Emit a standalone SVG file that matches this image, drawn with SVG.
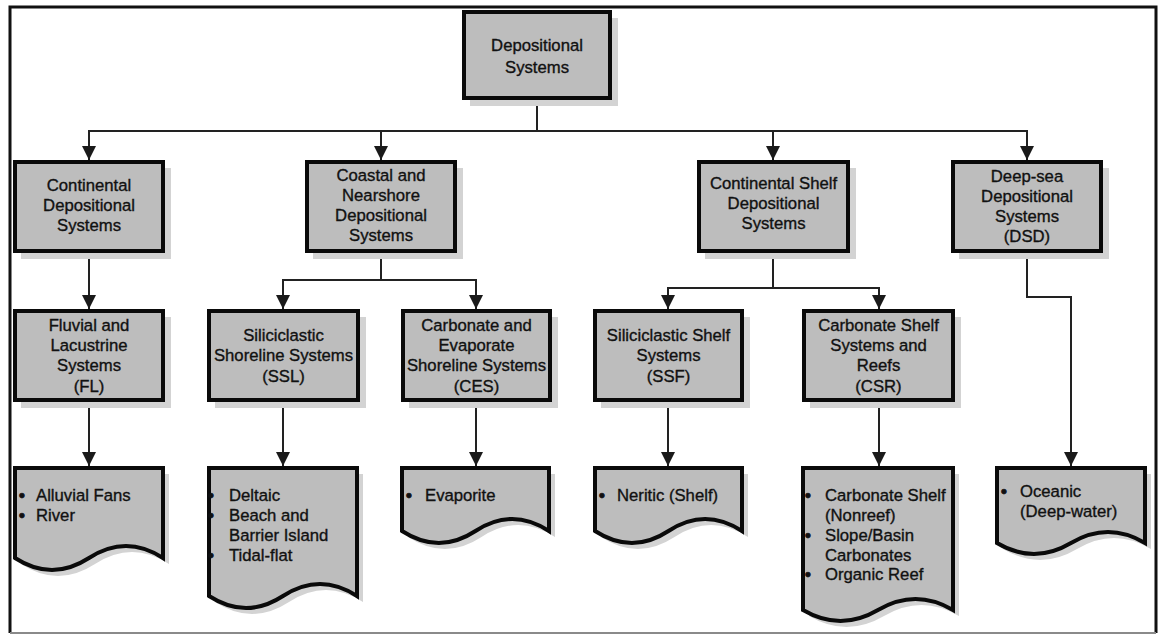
<svg xmlns="http://www.w3.org/2000/svg" width="1158" height="635" viewBox="0 0 1158 635">
<style>
  .box { fill: #bdbdbd; stroke: #0a0a0a; stroke-width: 4; }
  .shadow { fill: #d3d3d3; stroke: none; }
  .lbl { font-family: "Liberation Sans", Arial, sans-serif; font-size: 16.7px; fill: #111; stroke: #111; stroke-width: 0.35; text-anchor: middle; }
  .itm { font-family: "Liberation Sans", Arial, sans-serif; font-size: 16.7px; fill: #111; stroke: #111; stroke-width: 0.35; }
  .b { font-weight: bold; stroke-width: 0.8; }
  .con { fill: none; stroke: #222; stroke-width: 2; }
  .arr { fill: none; stroke: #222; stroke-width: 2; marker-end: url(#ah); }
</style>
<defs>
  <marker id="ah" markerUnits="userSpaceOnUse" markerWidth="14" markerHeight="16" refX="14" refY="7" orient="auto" viewBox="0 0 14 14">
    <path d="M0,0 L14,7 L0,14 Z" fill="#1a1a1a"/>
  </marker>
</defs>
<rect x="0" y="0" width="1158" height="635" fill="#ffffff"/>
<g id="frame">
  <path d="M10,633 V7 H1156 V633" fill="none" stroke="#111" stroke-width="3"/>
  <path d="M10,633 H1156" fill="none" stroke="#8a8a8a" stroke-width="2"/>
</g>
<g id="connectors">
  <path class="con" d="M537,100 V131"/>
  <path class="arr" d="M537,131 H89 V160"/>
  <path class="arr" d="M537,131 H381 V160"/>
  <path class="arr" d="M537,131 H773 V160"/>
  <path class="arr" d="M537,131 H1027 V160"/>
  <path class="arr" d="M89,253 V309"/>
  <path class="arr" d="M381,253 V280 H283 V309"/>
  <path class="arr" d="M381,280 H476 V309"/>
  <path class="arr" d="M773,253 V288 H668 V309"/>
  <path class="arr" d="M773,288 H879 V309"/>
  <path class="arr" d="M1027,253 V297 H1071 V466"/>
  <path class="arr" d="M89,402 V466"/>
  <path class="arr" d="M283,402 V466"/>
  <path class="arr" d="M476,402 V466"/>
  <path class="arr" d="M668,402 V466"/>
  <path class="arr" d="M879,402 V466"/>
</g>
<g id="depositional-systems">
  <rect class="shadow" x="470" y="18" width="148" height="88"/>
  <rect class="box" x="464" y="12" width="146" height="86"/>
  <text class="lbl" x="537" y="51">Depositional</text>
  <text class="lbl" x="537" y="73">Systems</text>
</g>
<g id="continental">
  <rect class="shadow" x="21" y="168" width="150" height="91"/>
  <rect class="box" x="15" y="162" width="148" height="89"/>
  <text class="lbl" x="89" y="191">Continental</text>
  <text class="lbl" x="89" y="211">Depositional</text>
  <text class="lbl" x="89" y="231">Systems</text>
</g>
<g id="coastal">
  <rect class="shadow" x="313" y="168" width="150" height="91"/>
  <rect class="box" x="307" y="162" width="148" height="89"/>
  <text class="lbl" x="381" y="181">Coastal and</text>
  <text class="lbl" x="381" y="201">Nearshore</text>
  <text class="lbl" x="381" y="221">Depositional</text>
  <text class="lbl" x="381" y="241">Systems</text>
</g>
<g id="continental-shelf">
  <rect class="shadow" x="705" y="168" width="151" height="91"/>
  <rect class="box" x="699" y="162" width="149" height="89"/>
  <text class="lbl" x="773.5" y="189">Continental Shelf</text>
  <text class="lbl" x="773.5" y="209">Depositional</text>
  <text class="lbl" x="773.5" y="229">Systems</text>
</g>
<g id="deep-sea">
  <rect class="shadow" x="959" y="168" width="150" height="91"/>
  <rect class="box" x="953" y="162" width="148" height="89"/>
  <text class="lbl" x="1027" y="182">Deep-sea</text>
  <text class="lbl" x="1027" y="202">Depositional</text>
  <text class="lbl" x="1027" y="222">Systems</text>
  <text class="lbl" x="1027" y="242">(DSD)</text>
</g>
<g id="fl">
  <rect class="shadow" x="21" y="317" width="150" height="91"/>
  <rect class="box" x="15" y="311" width="148" height="89"/>
  <text class="lbl" x="89" y="331">Fluvial and</text>
  <text class="lbl" x="89" y="351">Lacustrine</text>
  <text class="lbl" x="89" y="371">Systems</text>
  <text class="lbl" x="89" y="392">(FL)</text>
</g>
<g id="ssl">
  <rect class="shadow" x="215" y="317" width="151" height="91"/>
  <rect class="box" x="209" y="311" width="149" height="89"/>
  <text class="lbl" x="283.5" y="341">Siliciclastic</text>
  <text class="lbl" x="283.5" y="361">Shoreline Systems</text>
  <text class="lbl" x="283.5" y="382">(SSL)</text>
</g>
<g id="ces">
  <rect class="shadow" x="409" y="317" width="149" height="91"/>
  <rect class="box" x="403" y="311" width="147" height="89"/>
  <text class="lbl" x="476.5" y="331">Carbonate and</text>
  <text class="lbl" x="476.5" y="351">Evaporate</text>
  <text class="lbl" x="476.5" y="371">Shoreline Systems</text>
  <text class="lbl" x="476.5" y="392">(CES)</text>
</g>
<g id="ssf">
  <rect class="shadow" x="601" y="317" width="149" height="91"/>
  <rect class="box" x="595" y="311" width="147" height="89"/>
  <text class="lbl" x="668.5" y="341">Siliciclastic Shelf</text>
  <text class="lbl" x="668.5" y="361">Systems</text>
  <text class="lbl" x="668.5" y="382">(SSF)</text>
</g>
<g id="csr">
  <rect class="shadow" x="810" y="317" width="151" height="91"/>
  <rect class="box" x="804" y="311" width="149" height="89"/>
  <text class="lbl" x="878.5" y="331">Carbonate Shelf</text>
  <text class="lbl" x="878.5" y="351">Systems and</text>
  <text class="lbl" x="878.5" y="371">Reefs</text>
  <text class="lbl" x="878.5" y="392">(CSR)</text>
</g>
<g id="doc-fl">
  <path class="shadow" d="M21,474 H169 V564 Q132,540 95,564 T21,564 Z"/>
  <path class="box" d="M15,468 H163 V558 Q126,534 89,558 T15,558 Z"/>
  <text class="itm" y="501"><tspan class="b" x="19">•</tspan><tspan x="36">Alluvial Fans</tspan></text>
  <text class="itm" y="521"><tspan class="b" x="19">•</tspan><tspan x="36">River</tspan></text>
</g>
<g id="doc-ssl">
  <path class="shadow" d="M215,474 H363 V602 Q326,578 289,602 T215,602 Z"/>
  <path class="box" d="M209,468 H357 V596 Q320,572 283,596 T209,596 Z"/>
  <text class="itm" y="501"><tspan class="b" x="208">•</tspan><tspan x="229">Deltaic</tspan></text>
  <text class="itm" y="521"><tspan class="b" x="208">•</tspan><tspan x="229">Beach and</tspan></text>
  <text class="itm" x="229" y="541">Barrier Island</text>
  <text class="itm" y="561"><tspan class="b" x="208">•</tspan><tspan x="229">Tidal-flat</tspan></text>
</g>
<g id="doc-ces">
  <path class="shadow" d="M408,474 H555 V537 Q518,513 481.5,537 T408,537 Z"/>
  <path class="box" d="M402,468 H549 V531 Q512,507 475.5,531 T402,531 Z"/>
  <text class="itm" y="501"><tspan class="b" x="406">•</tspan><tspan x="425">Evaporite</tspan></text>
</g>
<g id="doc-ssf">
  <path class="shadow" d="M601,474 H748 V537 Q711,513 674.5,537 T601,537 Z"/>
  <path class="box" d="M595,468 H742 V531 Q705,507 668.5,531 T595,531 Z"/>
  <text class="itm" y="501"><tspan class="b" x="599">•</tspan><tspan x="617">Neritic (Shelf)</tspan></text>
</g>
<g id="doc-csr">
  <path class="shadow" d="M809,474 H959 V616 Q921.5,594 884,616 T809,616 Z"/>
  <path class="box" d="M803,468 H953 V610 Q915.5,588 878,610 T803,610 Z"/>
  <text class="itm" y="501"><tspan class="b" x="805">•</tspan><tspan x="825">Carbonate Shelf</tspan></text>
  <text class="itm" x="825" y="521">(Nonreef)</text>
  <text class="itm" y="541"><tspan class="b" x="805">•</tspan><tspan x="825">Slope/Basin</tspan></text>
  <text class="itm" x="825" y="561">Carbonates</text>
  <text class="itm" y="580"><tspan class="b" x="805">•</tspan><tspan x="825">Organic Reef</tspan></text>
</g>
<g id="doc-dsd">
  <path class="shadow" d="M1003,474 H1151 V549 Q1114,527 1077,549 T1003,549 Z"/>
  <path class="box" d="M997,468 H1145 V543 Q1108,521 1071,543 T997,543 Z"/>
  <text class="itm" y="497"><tspan class="b" x="1001">•</tspan><tspan x="1020">Oceanic</tspan></text>
  <text class="itm" x="1020" y="517">(Deep-water)</text>
</g>
</svg>
